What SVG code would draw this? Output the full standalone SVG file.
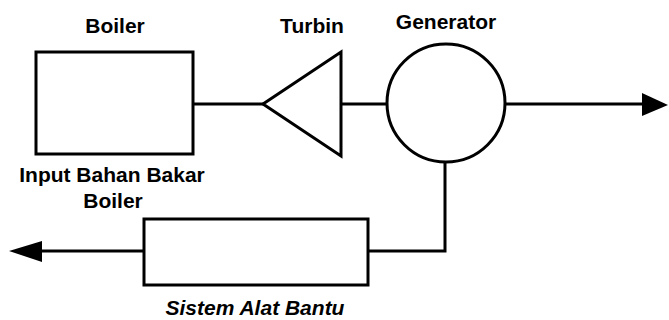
<svg xmlns="http://www.w3.org/2000/svg" width="669" height="320" viewBox="0 0 669 320">
<style>
.s{fill:#fff;stroke:#000;stroke-width:3}
.c{fill:none;stroke:#000;stroke-width:3}
.h{fill:#000;stroke:none}
.t{font-family:"Liberation Sans",Arial,sans-serif;font-size:21px;font-weight:bold;fill:#000;text-anchor:middle}
.i{font-style:italic}
</style>
<rect width="669" height="320" fill="#fff"/>
<g id="connectors">
<line class="c" x1="193" y1="104" x2="263" y2="104"/>
<line class="c" x1="341" y1="104" x2="387" y2="104"/>
<line class="c" x1="506" y1="104" x2="645" y2="104"/>
<polygon class="h" points="642,93 668,105 642,116"/>
<path class="c" d="M445 162 V251 H368"/>
<line class="c" x1="144" y1="251" x2="38" y2="251"/>
<polygon class="h" points="9,251 42,241 42,262"/>
</g>
<g id="boiler">
<rect class="s" x="36" y="52" width="157" height="102"/>
<text class="t" x="115" y="33">Boiler</text>
<text class="t" x="112" y="182">Input Bahan Bakar</text>
<text class="t" x="113" y="208">Boiler</text>
</g>
<g id="turbin">
<polygon class="s" points="263,104 341,52 341,156"/>
<text class="t" x="312" y="33">Turbin</text>
</g>
<g id="generator">
<circle class="s" cx="446" cy="103" r="59"/>
<text class="t" x="446" y="29">Generator</text>
</g>
<g id="sistem">
<rect class="s" x="144" y="219" width="224" height="66"/>
<text class="t i" x="255" y="315">Sistem Alat Bantu</text>
</g>
</svg>
